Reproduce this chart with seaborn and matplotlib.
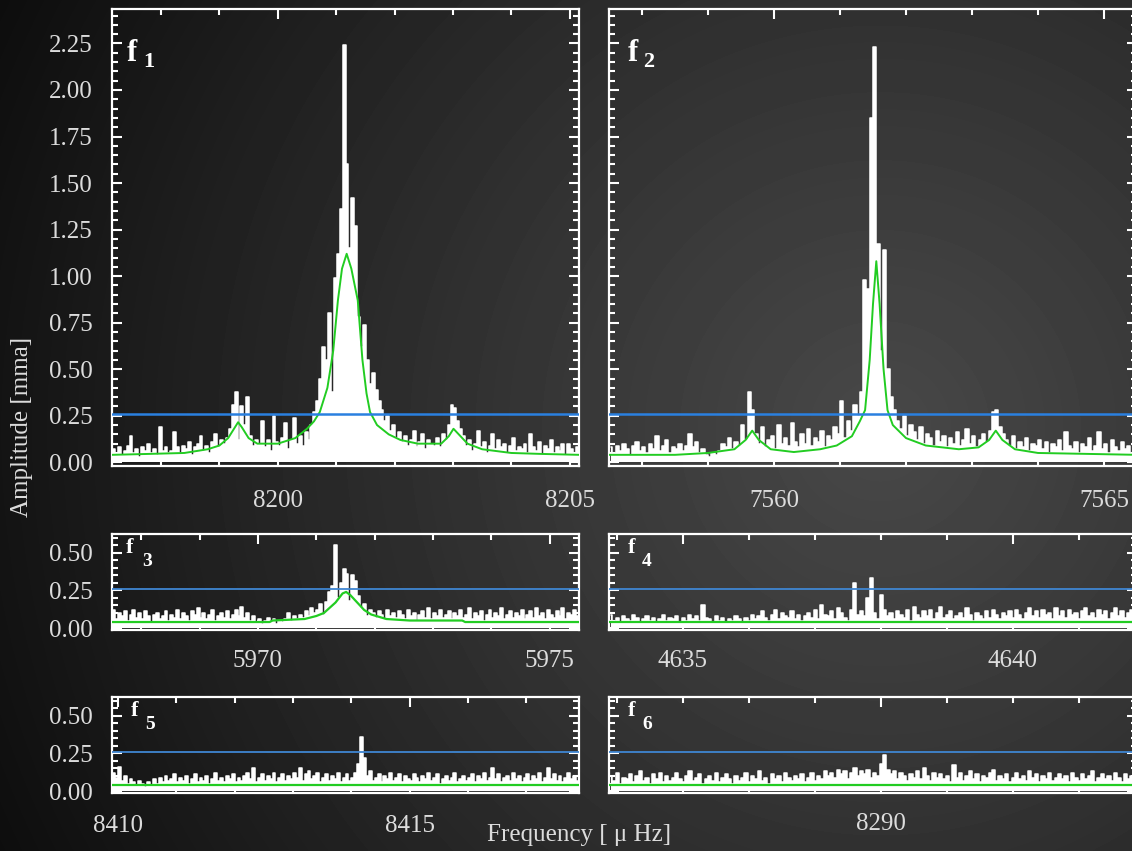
import numpy as np
import matplotlib
matplotlib.use("Agg")
import matplotlib.pyplot as plt
import seaborn as sns
from matplotlib.ticker import MultipleLocator, FormatStrFormatter

# ---------------- data ----------------
labels = ["1", "2", "3", "4", "5", "6"]
bin_step = 0.05
freq_start = [8197.185, 7557.525, 5967.525, 4633.905, 8409.925, 8285.905]
xlims = [(8197.16, 8205.16), (7557.5, 7565.5), (5967.5, 5975.5),
         (4633.88, 4641.88), (8409.9, 8417.9), (8285.88, 8293.88)]
threshold = [0.26, 0.26, 0.26, 0.26, 0.26, 0.26]

amp_f1 = [0.07,0.05,0.08,0.04,0.06,0.09,0.14,0.05,0.07,0.03,0.08,0.06,0.10,0.05,0.07,0.04,0.19,0.06,0.08,0.05,
          0.06,0.16,0.08,0.05,0.09,0.07,0.11,0.04,0.08,0.10,0.14,0.06,0.09,0.05,0.11,0.15,0.08,0.12,0.10,0.13,
          0.18,0.31,0.38,0.12,0.30,0.20,0.35,0.14,0.09,0.12,
          0.10,0.22,0.08,0.12,0.06,0.25,0.11,0.09,0.13,0.21,0.07,0.12,0.24,0.10,0.14,0.09,0.16,0.12,0.20,0.27,
          0.33,0.45,0.62,0.55,0.80,0.38,0.99,1.12,1.36,2.24,1.60,1.15,1.42,1.27,0.78,0.62,0.74,0.55,0.42,0.48,
          0.39,0.33,0.28,0.22,0.25,0.17,0.20,0.13,0.16,0.11,0.14,0.09,0.12,0.17,0.08,0.11,0.15,0.07,0.12,0.10,
          0.09,0.13,0.08,0.15,0.12,0.20,0.31,0.29,0.22,0.18,
          0.14,0.09,0.12,0.06,0.10,0.17,0.08,0.11,0.05,0.09,0.15,0.07,0.12,0.08,0.10,0.05,0.09,0.13,0.06,0.08,
          0.07,0.10,0.05,0.15,0.08,0.06,0.11,0.04,0.09,0.07,0.12,0.05,0.08,0.06,0.10,0.04,0.10,0.07,0.05,0.08]
amp_f2 = [0.08,0.05,0.09,0.06,0.10,0.07,0.04,0.09,0.11,0.06,0.08,0.05,0.10,0.07,0.14,0.06,0.09,0.12,0.05,0.08,
          0.07,0.10,0.06,0.09,0.15,0.08,0.11,0.05,0.07,0.04,0.03,0.05,0.04,0.06,0.10,0.08,0.13,0.07,0.11,0.09,
          0.20,0.12,0.38,0.28,0.15,0.10,0.19,0.08,0.12,0.14,0.07,0.20,0.10,0.13,0.09,0.21,0.11,0.08,0.15,0.10,
          0.18,0.09,0.13,0.11,0.17,0.08,0.14,0.12,0.19,0.15,0.33,0.13,0.22,0.17,0.31,0.25,0.38,0.98,0.93,1.85,
          2.23,1.17,0.60,1.14,0.50,0.35,0.28,0.22,0.18,0.25,0.14,0.20,0.16,0.12,0.19,0.10,0.15,0.13,0.09,0.17,
          0.11,0.14,0.08,0.13,0.10,0.16,0.09,0.12,0.18,0.10,0.14,0.08,0.12,0.15,0.11,0.17,0.27,0.28,0.19,0.15,
          0.12,0.09,0.14,0.07,0.11,0.08,0.13,0.06,0.10,0.09,0.12,0.07,0.11,0.05,0.10,0.08,0.12,0.06,0.16,0.09,
          0.07,0.11,0.05,0.10,0.08,0.13,0.06,0.09,0.16,0.07,0.10,0.05,0.12,0.08,0.06,0.11,0.07,0.09,0.05,0.08]
amp_f3 = [0.12,0.06,0.10,0.08,0.11,0.05,0.09,0.12,0.07,0.10,0.06,0.11,0.08,0.04,0.09,0.10,0.06,0.08,0.11,0.05,
          0.09,0.07,0.12,0.06,0.10,0.08,0.05,0.11,0.09,0.13,0.07,0.10,0.06,0.09,0.12,0.05,0.08,0.10,0.07,0.11,
          0.06,0.09,0.12,0.08,0.14,0.07,0.10,0.05,0.08,0.04,0.06,0.03,0.05,0.07,0.04,0.06,0.03,0.05,0.04,0.06,
          0.10,0.05,0.08,0.06,0.09,0.07,0.11,0.08,0.13,0.10,0.12,0.16,0.09,0.17,0.24,0.28,0.55,0.20,0.30,0.39,
          0.36,0.18,0.35,0.31,0.21,0.13,0.16,0.08,0.12,0.10,0.07,0.11,0.09,0.06,0.12,0.08,0.10,0.07,0.11,0.09,
          0.06,0.12,0.08,0.10,0.05,0.09,0.11,0.07,0.13,0.06,0.10,0.08,0.12,0.07,0.09,0.11,0.06,0.10,0.08,0.12,
          0.07,0.09,0.13,0.06,0.10,0.08,0.11,0.05,0.09,0.12,0.07,0.10,0.08,0.13,0.06,0.09,0.11,0.07,0.10,0.08,
          0.12,0.06,0.09,0.11,0.07,0.13,0.08,0.10,0.06,0.12,0.09,0.07,0.11,0.08,0.13,0.06,0.10,0.09,0.12,0.08]
amp_f4 = [0.09,0.05,0.07,0.04,0.08,0.06,0.05,0.09,0.07,0.04,0.06,0.08,0.05,0.07,0.04,0.06,0.09,0.05,0.07,0.06,
          0.08,0.04,0.07,0.05,0.09,0.06,0.08,0.05,0.15,0.07,0.06,0.04,0.08,0.05,0.07,0.04,0.06,0.05,0.08,0.06,
          0.04,0.07,0.05,0.09,0.06,0.08,0.11,0.07,0.05,0.09,0.12,0.06,0.10,0.08,0.07,0.11,0.06,0.09,0.05,0.08,
          0.10,0.07,0.12,0.06,0.15,0.09,0.08,0.11,0.06,0.13,0.10,0.07,0.05,0.12,0.30,0.09,0.11,0.08,0.20,0.33,
          0.10,0.06,0.22,0.12,0.08,0.10,0.06,0.11,0.09,0.07,0.12,0.05,0.14,0.09,0.07,0.11,0.08,0.12,0.06,0.10,
          0.14,0.07,0.09,0.11,0.06,0.08,0.10,0.07,0.13,0.09,0.05,0.10,0.08,0.06,0.11,0.07,0.12,0.09,0.06,0.10,
          0.08,0.11,0.07,0.12,0.09,0.06,0.10,0.13,0.08,0.11,0.07,0.12,0.09,0.10,0.06,0.13,0.08,0.11,0.07,0.12,
          0.09,0.10,0.06,0.11,0.13,0.08,0.10,0.07,0.12,0.09,0.11,0.06,0.10,0.13,0.08,0.11,0.07,0.10,0.12,0.09]
amp_f5 = [0.12,0.09,0.16,0.07,0.10,0.05,0.08,0.06,0.04,0.07,0.05,0.03,0.06,0.04,0.08,0.05,0.09,0.06,0.10,0.07,
          0.08,0.11,0.06,0.09,0.07,0.10,0.05,0.08,0.11,0.06,0.09,0.07,0.10,0.05,0.08,0.12,0.07,0.09,0.06,0.10,
          0.08,0.11,0.06,0.09,0.07,0.10,0.12,0.08,0.15,0.06,0.09,0.11,0.07,0.10,0.08,0.12,0.06,0.09,0.11,0.07,
          0.10,0.08,0.12,0.09,0.15,0.07,0.11,0.13,0.08,0.10,0.12,0.06,0.09,0.11,0.07,0.10,0.08,0.12,0.06,0.09,
          0.11,0.07,0.09,0.12,0.18,0.36,0.22,0.10,0.13,0.07,0.09,0.11,0.06,0.10,0.08,0.12,0.07,0.09,0.11,0.06,
          0.10,0.08,0.07,0.11,0.09,0.06,0.10,0.08,0.12,0.07,0.09,0.11,0.05,0.08,0.10,0.07,0.09,0.12,0.06,0.08,
          0.10,0.07,0.09,0.11,0.06,0.10,0.08,0.12,0.07,0.09,0.15,0.08,0.11,0.06,0.09,0.10,0.07,0.12,0.08,0.10,
          0.06,0.09,0.11,0.07,0.10,0.08,0.12,0.06,0.09,0.15,0.08,0.11,0.07,0.10,0.06,0.09,0.12,0.08,0.10,0.07]
amp_f6 = [0.10,0.07,0.12,0.05,0.09,0.08,0.11,0.06,0.10,0.13,0.07,0.09,0.05,0.11,0.08,0.12,0.06,0.10,0.07,0.09,
          0.12,0.08,0.06,0.10,0.13,0.07,0.09,0.11,0.05,0.08,0.10,0.07,0.12,0.06,0.09,0.11,0.08,0.05,0.10,0.07,
          0.09,0.12,0.06,0.10,0.08,0.13,0.07,0.09,0.05,0.11,0.08,0.10,0.06,0.12,0.09,0.07,0.10,0.08,0.11,0.06,
          0.09,0.12,0.07,0.10,0.08,0.13,0.10,0.12,0.09,0.14,0.11,0.13,0.08,0.12,0.15,0.10,0.13,0.11,0.14,0.09,
          0.12,0.10,0.18,0.24,0.14,0.11,0.13,0.08,0.12,0.10,0.07,0.11,0.09,0.13,0.08,0.15,0.10,0.07,0.12,0.09,
          0.11,0.08,0.10,0.06,0.17,0.09,0.12,0.07,0.10,0.13,0.08,0.11,0.06,0.10,0.09,0.12,0.14,0.07,0.10,0.08,
          0.11,0.06,0.09,0.12,0.08,0.10,0.07,0.13,0.09,0.11,0.06,0.10,0.08,0.12,0.07,0.09,0.11,0.08,0.10,0.06,
          0.12,0.09,0.07,0.11,0.08,0.10,0.13,0.06,0.09,0.11,0.08,0.10,0.07,0.12,0.09,0.06,0.11,0.08,0.10,0.07]

fit_x_f1 = [8197.16,8197.8,8198.4,8198.8,8199.0,8199.15,8199.27,8199.32,8199.38,8199.5,8199.65,8200.0,
            8200.3,8200.5,8200.62,8200.72,8200.85,8200.95,8201.03,8201.1,8201.18,8201.26,8201.37,8201.45,
            8201.52,8201.58,8201.7,8201.9,8202.1,8202.4,8202.8,8202.93,8203.01,8203.1,8203.25,8203.5,
            8204.0,8204.5,8205.16]
fit_y_f1 = [0.04,0.045,0.05,0.07,0.09,0.13,0.19,0.215,0.19,0.13,0.10,0.10,
            0.13,0.18,0.22,0.27,0.40,0.60,0.87,1.04,1.12,1.04,0.87,0.55,
            0.37,0.27,0.20,0.15,0.12,0.10,0.10,0.14,0.18,0.15,0.10,0.07,
            0.05,0.045,0.04]
fit_x_f2 = [7557.5,7558.5,7559.0,7559.4,7559.57,7559.67,7559.77,7559.95,7560.3,7560.7,7560.95,7561.18,
            7561.3,7561.38,7561.45,7561.5,7561.55,7561.6,7561.66,7561.72,7561.8,7562.0,7562.3,7562.8,
            7563.1,7563.26,7563.36,7563.46,7563.65,7564.0,7565.5]
fit_y_f2 = [0.04,0.04,0.05,0.07,0.12,0.17,0.12,0.07,0.055,0.07,0.09,0.14,
            0.22,0.28,0.55,0.85,1.08,0.85,0.50,0.28,0.20,0.13,0.09,0.07,
            0.08,0.12,0.17,0.12,0.07,0.05,0.04]
fit_x_f3 = [5967.5,5970.2,5970.25,5970.8,5971.0,5971.13,5971.33,5971.45,5971.51,5971.58,5971.7,5971.82,
            5971.94,5972.2,5972.6,5973.5,5973.55,5975.5]
fit_y_f3 = [0.04,0.04,0.05,0.06,0.08,0.10,0.17,0.23,0.24,0.22,0.17,0.12,
            0.09,0.06,0.05,0.05,0.04,0.04]
fit_x_f4 = [4633.88, 4641.88]
fit_y_f4 = [0.04, 0.04]
fit_x_f5 = [8409.9, 8417.9]
fit_y_f5 = [0.04, 0.04]
fit_x_f6 = [8285.88, 8293.88]
fit_y_f6 = [0.04, 0.04]

amps = [amp_f1, amp_f2, amp_f3, amp_f4, amp_f5, amp_f6]
fits = [(fit_x_f1, fit_y_f1), (fit_x_f2, fit_y_f2), (fit_x_f3, fit_y_f3),
        (fit_x_f4, fit_y_f4), (fit_x_f5, fit_y_f5), (fit_x_f6, fit_y_f6)]

# ---------------- style ----------------
sns.set_style("dark")
plt.rcParams["font.family"] = ["Liberation Serif", "DejaVu Serif"]
TXT = "#dcdcdc"

W, H = 1132, 851
fig = plt.figure(figsize=(W / 100, H / 100), dpi=100)

# radial dark gradient background
bg = fig.add_axes([0, 0, 1, 1], zorder=-10)
yy, xx = np.mgrid[0:H, 0:W]
d = np.sqrt((xx - 880.0) ** 2 + (yy - 430.0) ** 2) / 1000.0
v = np.clip(72 - 60 * d ** 1.1, 8, 80) / 255.0
bg.imshow(v, cmap="gray", vmin=0, vmax=1, aspect="auto", extent=(0, 1, 0, 1), origin="upper")
bg.set_axis_off()

# panel boxes in pixels: (x0, x1, ytop, ybottom)
boxes = [(112, 579, 9, 466), (609, 1137, 9, 466),
         (112, 579, 534, 630), (609, 1137, 534, 630),
         (112, 579, 697, 793), (609, 1137, 697, 793)]

for k in range(6):
    x0, x1, yt, yb = boxes[k]
    ax = fig.add_axes([x0 / W, 1 - yb / H, (x1 - x0) / W, (yb - yt) / H])
    ax.set_facecolor("none")
    big = k < 2
    amp = np.array(amps[k])
    freq = freq_start[k] + bin_step * np.arange(len(amp))
    ax.fill_between(freq, 0, amp, step="mid", color="white", linewidth=0, zorder=2)
    ax.plot(freq, amp, drawstyle="steps-mid", color="white", lw=1.1, zorder=2)
    fx, fy = fits[k]
    sns.lineplot(x=fx, y=fy, ax=ax, color="#22cc22", linewidth=1.4 if big else 1.6,
                 estimator=None, sort=False, zorder=4)
    sns.lineplot(x=list(xlims[k]), y=[threshold[k], threshold[k]], ax=ax,
                 color="#2a80e0" if big else "#3f86d2", linewidth=1.8 if big else 1.3,
                 estimator=None, zorder=5)
    ax.set_xlim(*xlims[k])
    if big:
        ax.set_ylim(-0.02, 2.435)
    else:
        ax.set_ylim(-0.013, 0.625)
    ax.xaxis.set_major_locator(MultipleLocator(5))
    ax.xaxis.set_minor_locator(MultipleLocator(1))
    ax.yaxis.set_major_locator(MultipleLocator(0.25))
    ax.yaxis.set_minor_locator(MultipleLocator(0.05))
    ax.yaxis.set_major_formatter(FormatStrFormatter("%.2f"))
    ax.xaxis.set_major_formatter(FormatStrFormatter("%d"))
    ax.tick_params(which="both", direction="in", top=True, right=True, bottom=True, left=True,
                   color="white", width=1.5, labelcolor=TXT, labelsize=18)
    ax.tick_params(which="major", length=7)
    ax.tick_params(which="minor", length=4)
    ax.tick_params(axis="x", which="major", pad=17 if big else 14.5)
    if k == 4:
        ax.tick_params(axis="x", which="major", pad=15.5)
    ax.tick_params(axis="y", which="major", pad=14)
    if k % 2 == 1:
        ax.tick_params(axis="y", labelleft=False)
    for s in ax.spines.values():
        s.set_color("white")
        s.set_linewidth(1.6)
        s.set_visible(True)
    ax.grid(False)
    ax.set_xlabel("")
    ax.set_ylabel("")

    wpx, hpx = x1 - x0, yb - yt
    if big:
        fdx, fdy, sdx, sdy, fs1, fs2 = (15 if k == 0 else 19), 52, (31 if k == 0 else 34), 58, 22, 16
    else:
        fdx, fdy, sdx, sdy, fs1, fs2 = (14 if k == 2 else 19), 19, (30 if k == 2 else 33), 32, 16, 14
    ax.text(fdx / wpx, 1 - fdy / hpx, "f", transform=ax.transAxes, color="white",
            fontsize=fs1, fontweight="bold", ha="left", va="baseline", zorder=6)
    ax.text(sdx / wpx, 1 - sdy / hpx, labels[k], transform=ax.transAxes, color="white",
            fontsize=fs2, fontweight="bold", ha="left", va="baseline", zorder=6)

fig.text(22 / W, 1 - 427 / H, "Amplitude [mma]", rotation=90, ha="center", va="center",
         color=TXT, fontsize=18)
fig.text(579 / W, 1 - 835 / H, "Frequency [ μ Hz]", ha="center", va="center",
         color=TXT, fontsize=18)

fig.savefig("out.png", dpi=100)
